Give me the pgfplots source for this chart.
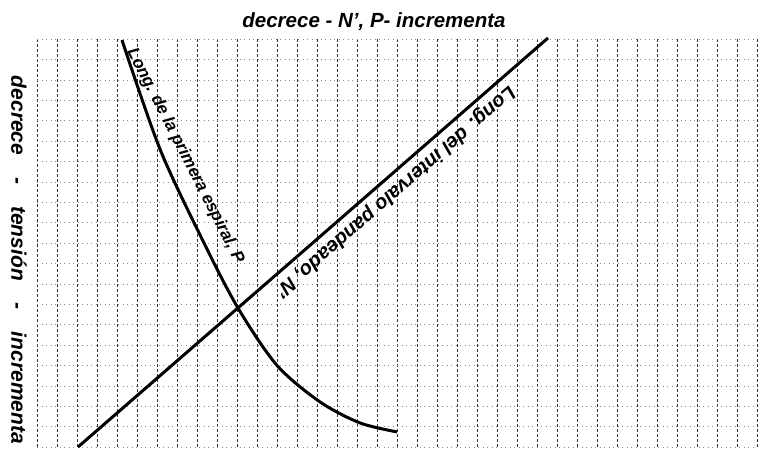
\documentclass[border=0pt]{standalone}
\usepackage{pgfplots}
\pgfplotsset{compat=1.18}
\usepackage{fontspec}
\setmainfont{Liberation Sans}
\begin{document}
\begin{tikzpicture}
\useasboundingbox (0,0) rectangle (769pt,454pt);
\begin{axis}[
  at={(37pt,7pt)}, anchor=south west,
  x=20pt, y=20.4pt,
  xmin=0, xmax=36, ymin=0, ymax=20,
  axis line style={draw=none},
  xtick distance=1, ytick distance=1,
  xticklabels={}, yticklabels={},
  major tick length=0pt,
  grid=major,
  x grid style={black!80, line width=0.6pt, dash pattern=on 2.5pt off 2.5pt},
  y grid style={black!45, line width=0.5pt, dash pattern=on 1pt off 3.5pt},
  clip=false,
]
\addplot[black, line width=3pt, smooth] coordinates {(4.25,19.95) (6.15,14.6) (8.3,10.1) (10.05,6.81) (12.0,4.0) (14.15,2.21) (16.15,1.18) (18.0,0.74)};
\addplot[black, line width=3pt] coordinates {(2.05,0) (10.05,6.82) (13.15,9.46) (25.55,20.05)};
\node[rotate=-63, anchor=base, font=\bfseries\itshape\fontsize{17}{17}\selectfont] at (axis cs:7.22,14.16) {Long. de la primera espiral, P};
\node[rotate=221, anchor=base, font=\bfseries\itshape\fontsize{20}{20}\selectfont] at (axis cs:17.73,12.72) {Long. del intervalo pandeado, N'};
\end{axis}
\node[anchor=base, font=\bfseries\itshape\fontsize{20.5}{20.5}\selectfont] at (374pt,426pt) {decrece - N', P- incrementa};
\node[rotate=-90, font=\bfseries\itshape\fontsize{21}{21}\selectfont] at (19pt,194pt) {decrece\hspace{22pt}-\hspace{22pt}tensión\hspace{22pt}-\hspace{22pt}incrementa};
\end{tikzpicture}
\end{document}
